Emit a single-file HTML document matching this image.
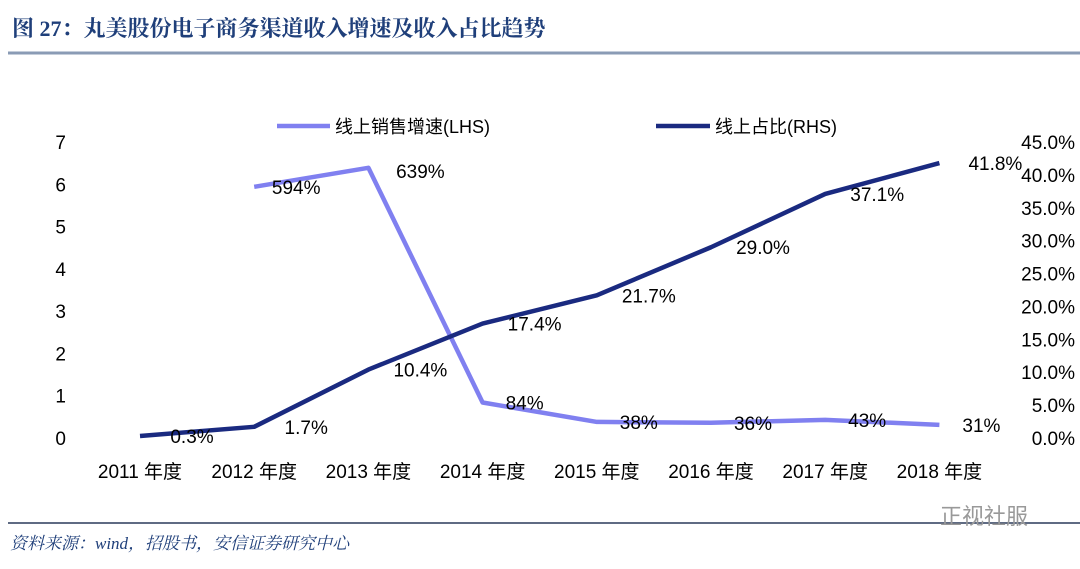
<!DOCTYPE html>
<html><head><meta charset="utf-8"><style>
body{margin:0;width:1080px;height:564px;background:#fff;overflow:hidden;font-family:"Liberation Sans","Noto Sans CJK SC",sans-serif}
svg text{font-family:"Liberation Sans","Noto Sans CJK SC",sans-serif}
svg text.serif{font-family:"Liberation Serif","Noto Serif CJK SC",serif}
</style></head><body>
<svg width="1080" height="564">
<text class="serif" x="12" y="36" font-size="22" font-weight="bold" fill="#1f3f7a">图 27：丸美股份电子商务渠道收入增速及收入占比趋势</text>
<line x1="8" y1="53" x2="1080" y2="53" stroke="#8a9bb5" stroke-width="3"/>
<line x1="8" y1="523" x2="1080" y2="523" stroke="#2a3a5a" stroke-width="1.5"/>
<text class="serif" x="10" y="549" font-size="17" font-style="italic" fill="#1f3f7a">资料来源：wind，招股书，安信证券研究中心</text>
<text x="940" y="524" font-size="22" fill="#999">正视社服</text>
<g id="plot"></g>
</svg>
<script>
const categories=["2011 年度","2012 年度","2013 年度","2014 年度","2015 年度","2016 年度","2017 年度","2018 年度"];
const growth=[null,5.94,6.39,0.84,0.38,0.36,0.43,0.31];
const growthLabels=["","594%","639%","84%","38%","36%","43%","31%"];
const share=[0.3,1.7,10.4,17.4,21.7,29.0,37.1,41.8];
const leftTicks=[0,1,2,3,4,5,6,7];
const rightTicks=[0,5,10,15,20,25,30,35,40,45];
const NS="http://www.w3.org/2000/svg",g=document.getElementById('plot');
const x0=140,dx=114.2,yB=438,yT=142;
const X=i=>x0+i*dx,YL=v=>yB-v/7*(yB-yT),YR=v=>yB-v/45*(yB-yT);
function el(t,a){const e=document.createElementNS(NS,t);for(const k in a)e.setAttribute(k,a[k]);g.appendChild(e);return e;}
leftTicks.forEach(v=>{const t=el('text',{x:66,y:YL(v)+7,'font-size':19,'text-anchor':'end',fill:'#000'});t.textContent=v;

});
rightTicks.forEach(v=>{const t=el('text',{x:1075,y:YR(v)+7,'font-size':19,'text-anchor':'end',fill:'#000'});t.textContent=v.toFixed(1)+'%';

});
categories.forEach((c,i)=>{const t=el('text',{x:X(i),y:478,'font-size':19,'text-anchor':'middle',fill:'#000'});t.textContent=c;

});
let pts=[];growth.forEach((v,i)=>{if(v!==null)pts.push(X(i)+','+YL(v));});
const l1=el('polyline',{points:pts.join(' '),fill:'none',stroke:'#8080f0','stroke-width':4.5,'stroke-linejoin':'round'});


const l2=el('polyline',{points:share.map((v,i)=>X(i)+','+YR(v)).join(' '),fill:'none',stroke:'#1a2a80','stroke-width':4.5,'stroke-linejoin':'round'});


growth.forEach((v,i)=>{if(v===null)return;const t=el('text',{x:X(i)+(i==2?52:42),y:YL(v)+(i==2?10:7),'font-size':19,'text-anchor':'middle',fill:'#000'});t.textContent=growthLabels[i];

});
share.forEach((v,i)=>{const t=el('text',{x:X(i)+(i==7?56:52),y:YR(v)+7,'font-size':19,'text-anchor':'middle',fill:'#000'});t.textContent=v.toFixed(1)+'%';

});
const lg1=el('line',{x1:277,y1:126,x2:330,y2:126,stroke:'#8080f0','stroke-width':4.5});


const lt1=el('text',{x:335,y:133,'font-size':18,fill:'#000'});lt1.textContent='线上销售增速(LHS)';


const lg2=el('line',{x1:656,y1:126,x2:710,y2:126,stroke:'#1a2a80','stroke-width':4.5});


const lt2=el('text',{x:715,y:133,'font-size':18,fill:'#000'});lt2.textContent='线上占比(RHS)';


</script>
</body></html>
